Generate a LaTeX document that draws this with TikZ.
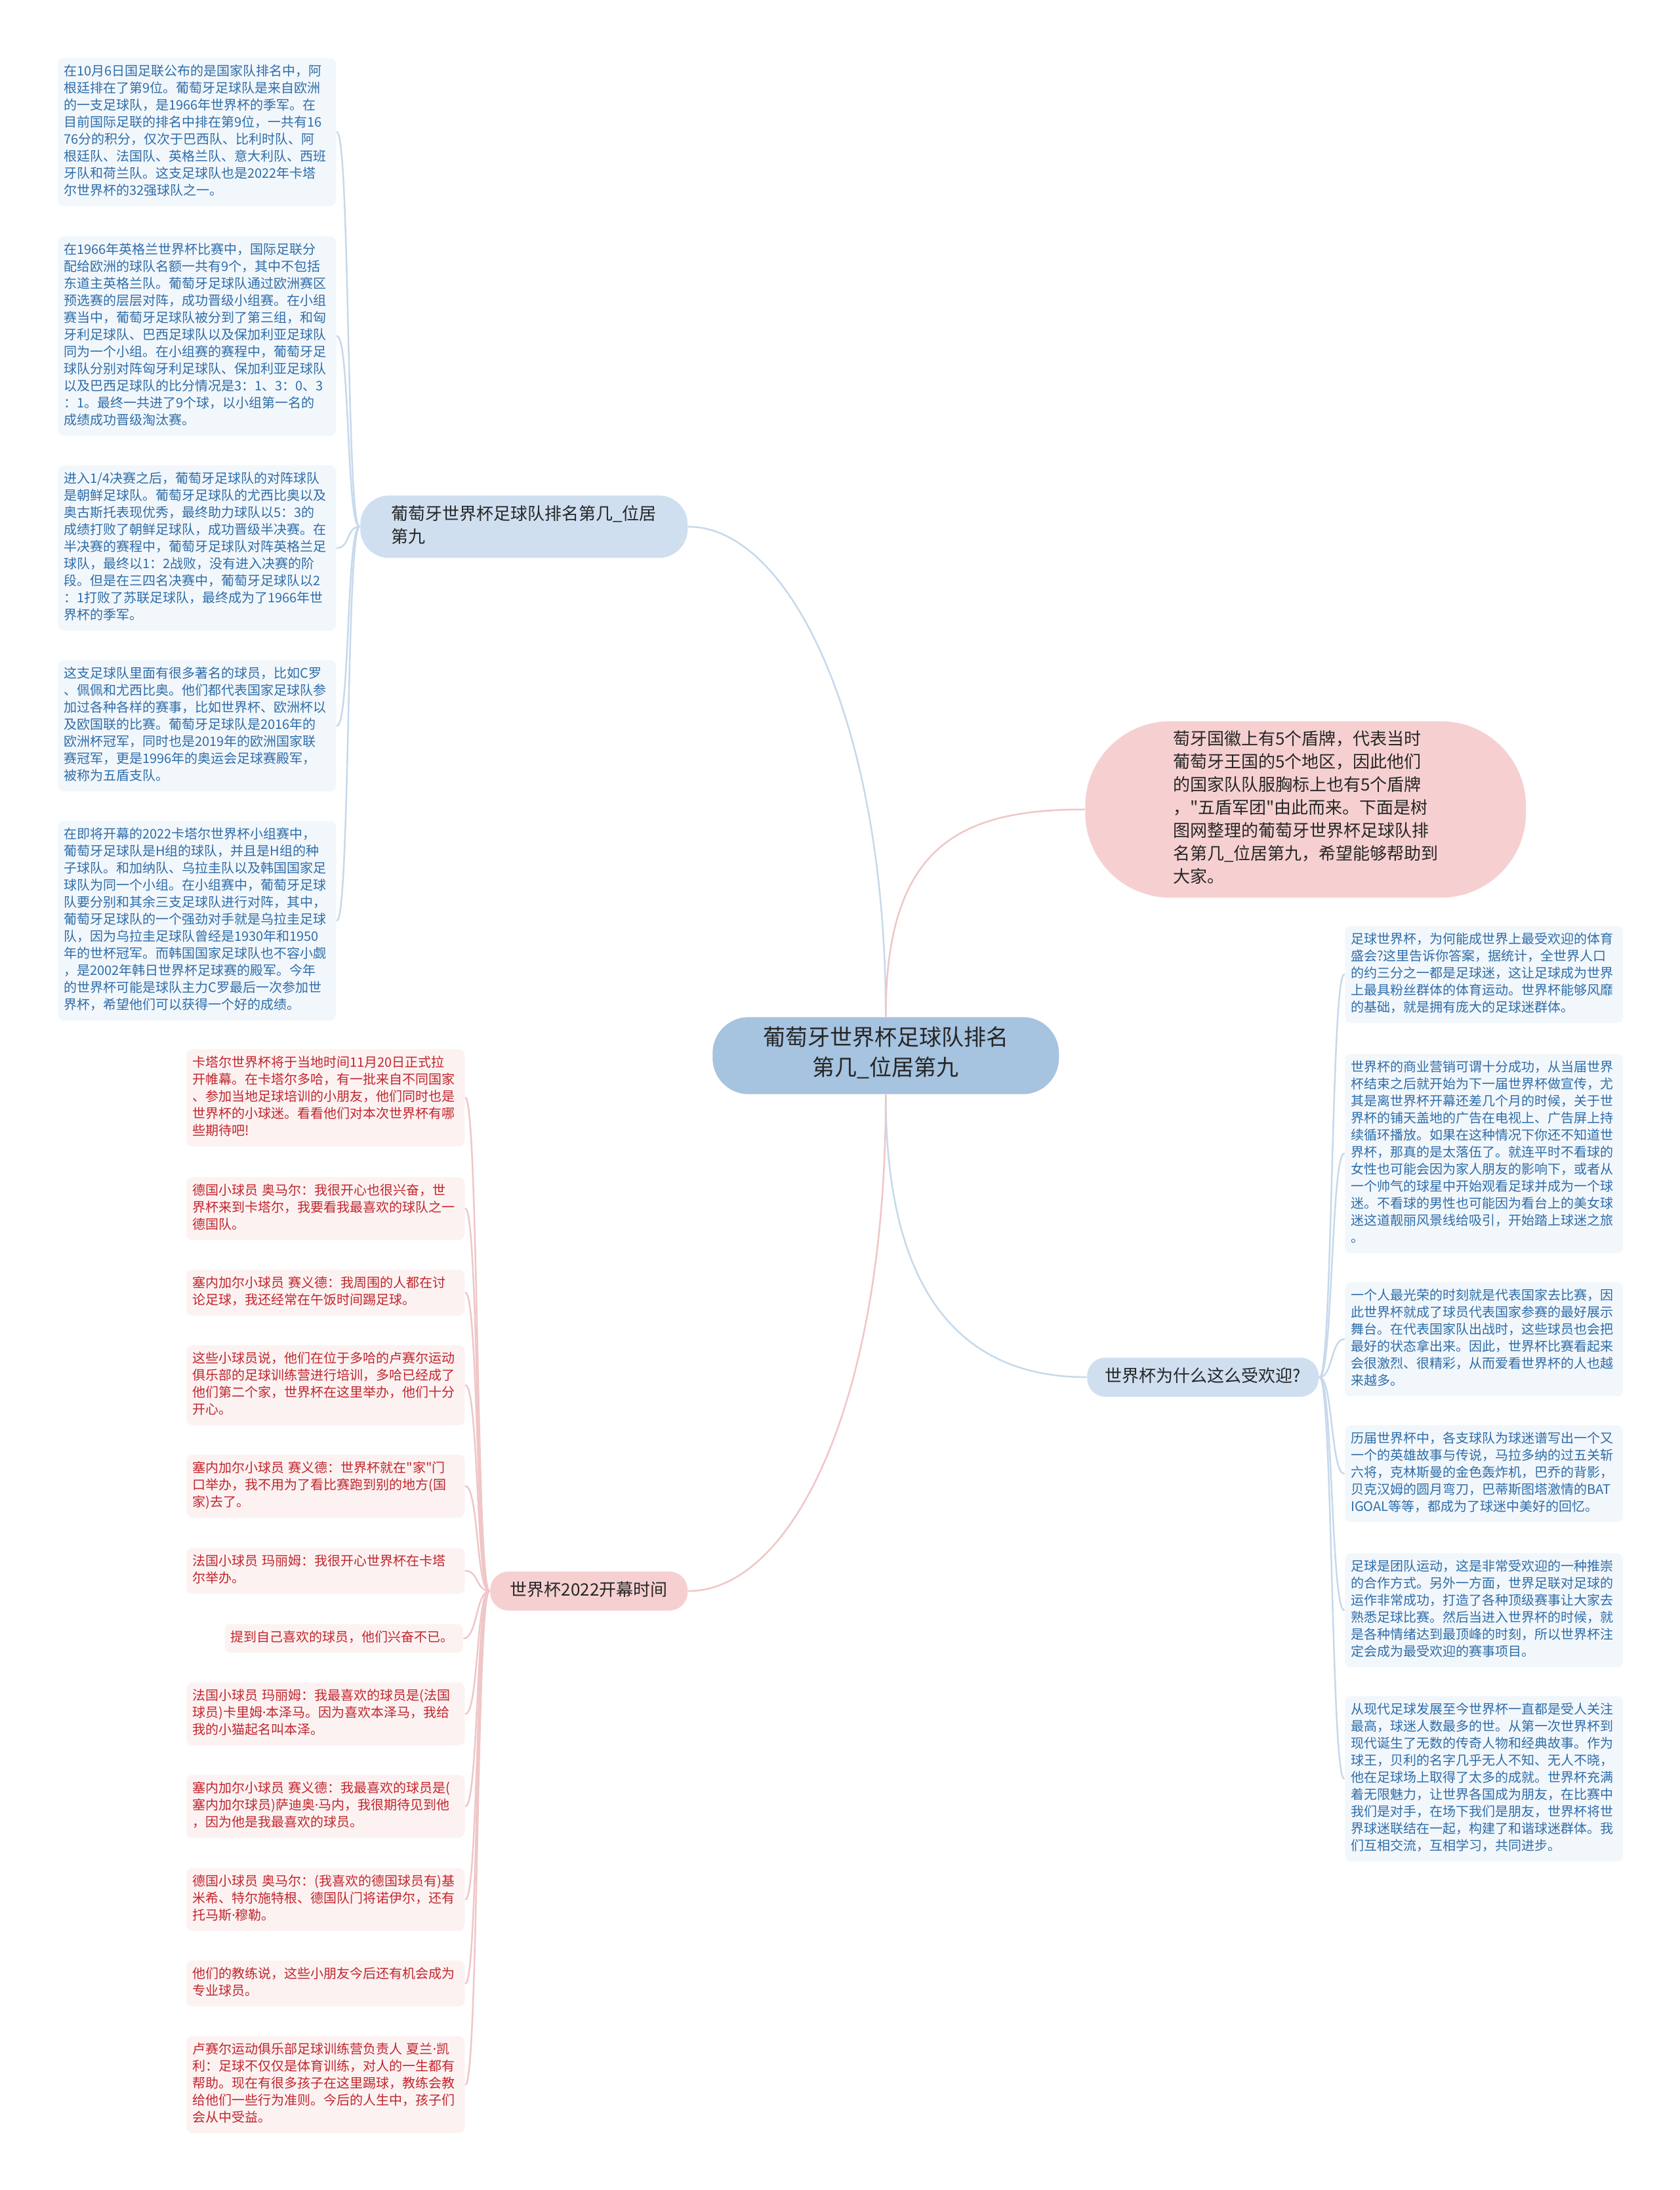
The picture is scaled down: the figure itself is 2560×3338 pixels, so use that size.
\documentclass[tikz,border=0pt]{standalone}
\usepackage{fontspec}
\setmainfont{Noto Sans CJK SC}[Ligatures=TeXOff]
\newfontfamily\dotfont{Noto Sans}
\newcommand{\md}{{\dotfont ·}}
\definecolor{hubfill}{HTML}{A6C3DF}
\definecolor{bfill}{HTML}{CFDFF0}
\definecolor{pfill}{HTML}{F6D0D1}
\definecolor{bleaffill}{HTML}{F2F7FC}
\definecolor{rleaffill}{HTML}{FDF2F2}
\definecolor{btext}{HTML}{2E6DA8}
\definecolor{rtext}{HTML}{C0262D}
\definecolor{blink}{HTML}{C6D9EC}
\definecolor{plink}{HTML}{F0C6C7}
\begin{document}
\begin{tikzpicture}[x=1pt,y=-1pt,line width=2.5pt,line cap=round,
	every node/.style={anchor=north west,execute at begin node=\strut,execute at end node=\strut},
	leaf/.style={text width=406pt,align=left,inner xsep=9pt,inner ysep=9pt,rounded corners=9pt,font=\fontsize{20pt}{26pt}\selectfont},
	bleaf/.style={leaf,fill=bleaffill,text=btext},
	rleaf/.style={leaf,fill=rleaffill,text=rtext},
	topic/.style={inner ysep=12pt,text=black!85,font=\fontsize{26pt}{35.6pt}\selectfont},
	tol/.style={to path={.. controls +(-20,0) and +(20,0) .. (\tikztotarget)}},
	tor/.style={to path={.. controls +(20,0) and +(-20,0) .. (\tikztotarget)}}]
	\fill[white] (0,0) rectangle (2560,3338);
	\useasboundingbox (0,0) rectangle (2560,3338);

	\node[fill=hubfill,minimum width=528pt,align=center,inner ysep=14.5pt,rounded corners=55pt,text=black!85,font=\fontsize{34pt}{46pt}\selectfont] (c) at (1085,1549) {葡萄牙世界杯足球队排名\\第几\_位居第九};
	\node[topic,fill=bfill,text width=405pt,align=left,inner xsep=47pt,rounded corners=44pt] (t1) at (548,754) {葡萄牙世界杯足球队排名第几\_位居\\第九};
	\node[topic,fill=bfill,minimum width=353pt,inner xsep=0pt,rounded corners=28pt] (t2) at (1656,2068) {世界杯为什么这么受欢迎?};
	\node[topic,fill=pfill,text width=404pt,align=left,inner xsep=134pt,font=\fontsize{26pt}{35pt}\selectfont,rounded corners=130pt] (t3) at (1653,1098) {萄牙国徽上有5个盾牌，代表当时\\葡萄牙王国的5个地区，因此他们\\的国家队队服胸标上也有5个盾牌\\，"五盾军团"由此而来。下面是树\\图网整理的葡萄牙世界杯足球队排\\名第几\_位居第九，希望能够帮助到\\大家。};
	\node[topic,fill=pfill,minimum width=301pt,inner xsep=0pt,rounded corners=28pt] (t4) at (746,2394) {世界杯2022开幕时间};

	\node[bleaf] (a1) at (87,87) {在10月6日国足联公布的是国家队排名中，阿\\根廷排在了第9位。葡萄牙足球队是来自欧洲\\的一支足球队，是1966年世界杯的季军。在\\目前国际足联的排名中排在第9位，一共有16\\76分的积分，仅次于巴西队、比利时队、阿\\根廷队、法国队、英格兰队、意大利队、西班\\牙队和荷兰队。这支足球队也是2022年卡塔\\尔世界杯的32强球队之一。};
	\node[bleaf] (a2) at (87,359) {在1966年英格兰世界杯比赛中，国际足联分\\配给欧洲的球队名额一共有9个，其中不包括\\东道主英格兰队。葡萄牙足球队通过欧洲赛区\\预选赛的层层对阵，成功晋级小组赛。在小组\\赛当中，葡萄牙足球队被分到了第三组，和匈\\牙利足球队、巴西足球队以及保加利亚足球队\\同为一个小组。在小组赛的赛程中，葡萄牙足\\球队分别对阵匈牙利足球队、保加利亚足球队\\以及巴西足球队的比分情况是3：1、3：0、3\\：1。最终一共进了9个球，以小组第一名的\\成绩成功晋级淘汰赛。};
	\node[bleaf] (a3) at (87,708) {进入1/4决赛之后，葡萄牙足球队的对阵球队\\是朝鲜足球队。葡萄牙足球队的尤西比奥以及\\奥古斯托表现优秀，最终助力球队以5：3的\\成绩打败了朝鲜足球队，成功晋级半决赛。在\\半决赛的赛程中，葡萄牙足球队对阵英格兰足\\球队，最终以1：2战败，没有进入决赛的阶\\段。但是在三四名决赛中，葡萄牙足球队以2\\：1打败了苏联足球队，最终成为了1966年世\\界杯的季军。};
	\node[bleaf] (a4) at (87,1005) {这支足球队里面有很多著名的球员，比如C罗\\、佩佩和尤西比奥。他们都代表国家足球队参\\加过各种各样的赛事，比如世界杯、欧洲杯以\\及欧国联的比赛。葡萄牙足球队是2016年的\\欧洲杯冠军，同时也是2019年的欧洲国家联\\赛冠军，更是1996年的奥运会足球赛殿军，\\被称为五盾支队。};
	\node[bleaf] (a5) at (87,1250) {在即将开幕的2022卡塔尔世界杯小组赛中，\\葡萄牙足球队是H组的球队，并且是H组的种\\子球队。和加纳队、乌拉圭队以及韩国国家足\\球队为同一个小组。在小组赛中，葡萄牙足球\\队要分别和其余三支足球队进行对阵，其中，\\葡萄牙足球队的一个强劲对手就是乌拉圭足球\\队，因为乌拉圭足球队曾经是1930年和1950\\年的世杯冠军。而韩国国家足球队也不容小觑\\，是2002年韩日世界杯足球赛的殿军。今年\\的世界杯可能是球队主力C罗最后一次参加世\\界杯，希望他们可以获得一个好的成绩。};

	\node[bleaf] (r1) at (2049,1410) {足球世界杯，为何能成世界上最受欢迎的体育\\盛会?这里告诉你答案，据统计，全世界人口\\的约三分之一都是足球迷，这让足球成为世界\\上最具粉丝群体的体育运动。世界杯能够风靡\\的基础，就是拥有庞大的足球迷群体。};
	\node[bleaf] (r2) at (2049,1605) {世界杯的商业营销可谓十分成功，从当届世界\\杯结束之后就开始为下一届世界杯做宣传，尤\\其是离世界杯开幕还差几个月的时候，关于世\\界杯的铺天盖地的广告在电视上、广告屏上持\\续循环播放。如果在这种情况下你还不知道世\\界杯，那真的是太落伍了。就连平时不看球的\\女性也可能会因为家人朋友的影响下，或者从\\一个帅气的球星中开始观看足球并成为一个球\\迷。不看球的男性也可能因为看台上的美女球\\迷这道靓丽风景线给吸引，开始踏上球迷之旅\\。};
	\node[bleaf] (r3) at (2049,1953) {一个人最光荣的时刻就是代表国家去比赛，因\\此世界杯就成了球员代表国家参赛的最好展示\\舞台。在代表国家队出战时，这些球员也会把\\最好的状态拿出来。因此，世界杯比赛看起来\\会很激烈、很精彩，从而爱看世界杯的人也越\\来越多。};
	\node[bleaf] (r4) at (2049,2171) {历届世界杯中，各支球队为球迷谱写出一个又\\一个的英雄故事与传说，马拉多纳的过五关斩\\六将，克林斯曼的金色轰炸机，巴乔的背影，\\贝克汉姆的圆月弯刀，巴蒂斯图塔激情的BAT\\IGOAL等等，都成为了球迷中美好的回忆。};
	\node[bleaf] (r5) at (2049,2366) {足球是团队运动，这是非常受欢迎的一种推崇\\的合作方式。另外一方面，世界足联对足球的\\运作非常成功，打造了各种顶级赛事让大家去\\熟悉足球比赛。然后当进入世界杯的时候，就\\是各种情绪达到最顶峰的时刻，所以世界杯注\\定会成为最受欢迎的赛事项目。};
	\node[bleaf] (r6) at (2049,2584) {从现代足球发展至今世界杯一直都是受人关注\\最高，球迷人数最多的世。从第一次世界杯到\\现代诞生了无数的传奇人物和经典故事。作为\\球王，贝利的名字几乎无人不知、无人不晓，\\他在足球场上取得了太多的成就。世界杯充满\\着无限魅力，让世界各国成为朋友，在比赛中\\我们是对手，在场下我们是朋友，世界杯将世\\界球迷联结在一起，构建了和谐球迷群体。我\\们互相交流，互相学习，共同进步。};

	\node[rleaf] (k1) at (283,1598) {卡塔尔世界杯将于当地时间11月20日正式拉\\开帷幕。在卡塔尔多哈，有一批来自不同国家\\、参加当地足球培训的小朋友，他们同时也是\\世界杯的小球迷。看看他们对本次世界杯有哪\\些期待吧!};
	\node[rleaf] (k2) at (283,1793) {德国小球员~奥马尔：我很开心也很兴奋，世\\界杯来到卡塔尔，我要看我最喜欢的球队之一\\德国队。};
	\node[rleaf] (k3) at (283,1934) {塞内加尔小球员~赛义德：我周围的人都在讨\\论足球，我还经常在午饭时间踢足球。};
	\node[rleaf] (k4) at (283,2049) {这些小球员说，他们在位于多哈的卢赛尔运动\\俱乐部的足球训练营进行培训，多哈已经成了\\他们第二个家，世界杯在这里举办，他们十分\\开心。};
	\node[rleaf] (k5) at (283,2216) {塞内加尔小球员~赛义德：世界杯就在"家"门\\口举办，我不用为了看比赛跑到别的地方(国\\家)去了。};
	\node[rleaf] (k6) at (283,2358) {法国小球员~玛丽姆：我很开心世界杯在卡塔\\尔举办。};
	\node[rleaf,text width=345pt,anchor=north east] (k7) at (707,2474) {提到自己喜欢的球员，他们兴奋不已。};
	\node[rleaf] (k8) at (283,2563) {法国小球员~玛丽姆：我最喜欢的球员是(法国\\球员)卡里姆\md 本泽马。因为喜欢本泽马，我给\\我的小猫起名叫本泽。};
	\node[rleaf] (k9) at (283,2704) {塞内加尔小球员~赛义德：我最喜欢的球员是(\\塞内加尔球员)萨迪奥\md 马内，我很期待见到他\\，因为他是我最喜欢的球员。};
	\node[rleaf] (k10) at (283,2846) {德国小球员~奥马尔：(我喜欢的德国球员有)基\\米希、特尔施特根、德国队门将诺伊尔，还有\\托马斯\md 穆勒。};
	\node[rleaf] (k11) at (283,2987) {他们的教练说，这些小朋友今后还有机会成为\\专业球员。};
	\node[rleaf] (k12) at (283,3102) {卢赛尔运动俱乐部足球训练营负责人~夏兰\md 凯\\利：足球不仅仅是体育训练，对人的一生都有\\帮助。现在有很多孩子在这里踢球，教练会教\\给他们一些行为准则。今后的人生中，孩子们\\会从中受益。};

	\path[blink]
	(c.north) edge[to path={.. controls +(0,-449) and +(153,0) .. (\tikztotarget)}] (t1.east)
	(c.south) edge[to path={.. controls +(0,280) and +(-206,0) .. (\tikztotarget)}] (t2.west)
	(t1.west) edge[tol] (a1.east) edge[tol] (a2.east) edge[tol] (a3.east) edge[tol] (a4.east) edge[tol] (a5.east)
	(t2.east) edge[tor] (r1.west) edge[tor] (r2.west) edge[tor] (r3.west) edge[tor] (r4.west) edge[tor] (r5.west) edge[tor] (r6.west);
	\path[plink]
	(c.north) edge[to path={.. controls +(0,-260) and +(-190,0) .. (\tikztotarget)}] (t3.west)
	(c.south) edge[to path={.. controls +(0,480) and +(153,0) .. (\tikztotarget)}] (t4.east)
	(t4.west) edge[tol] (k1.east) edge[tol] (k2.east) edge[tol] (k3.east) edge[tol] (k4.east) edge[tol] (k5.east) edge[tol] (k6.east)
	edge[tol] (k7.east) edge[tol] (k8.east) edge[tol] (k9.east) edge[tol] (k10.east) edge[tol] (k11.east) edge[tol] (k12.east);
\end{tikzpicture}
\end{document}
